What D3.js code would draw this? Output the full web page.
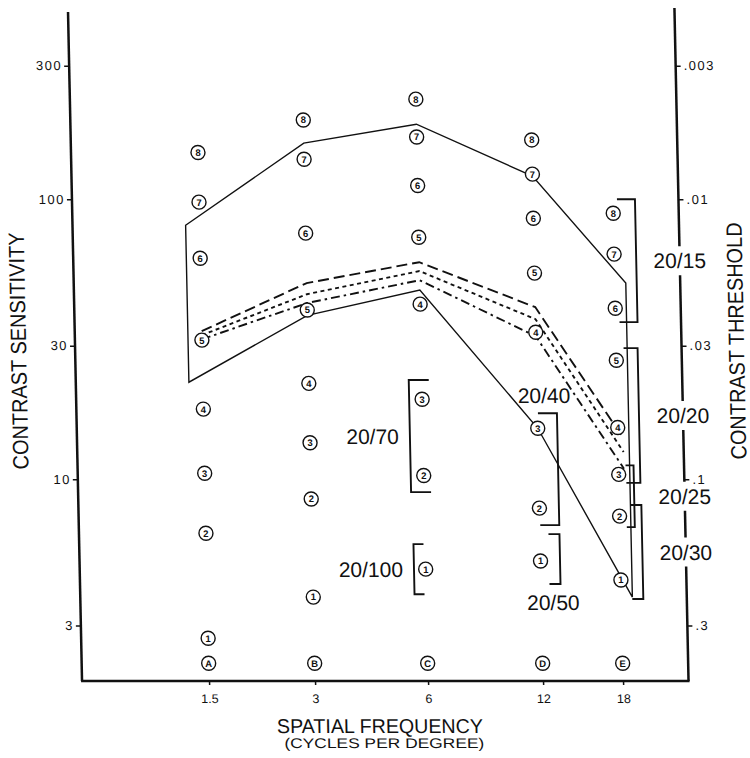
<!DOCTYPE html>
<meta charset="utf-8">
<style>
body { margin: 0; background: #fff; }
svg { display: block; font-family: "Liberation Sans", Arial, sans-serif; }
.tick line { stroke: #111; stroke-width: 1.5px; }
.frame { stroke: #111; stroke-width: 2.5px; }
.norm { fill: none; stroke: #111; stroke-width: 1.4px; }
.curve { fill: none; stroke: #111; stroke-width: 1.9px; }
.patch circle { fill: #fff; stroke: #111; stroke-width: 1.4px; }
.patch text { font-size: 9.5px; font-weight: bold; fill: #111; text-anchor: middle; }
.bracket { fill: none; stroke: #111; stroke-width: 1.9px; }
.acuity { font-size: 21px; fill: #111; }
.title { fill: #111; }
</style>
<svg width="750" height="758"></svg>
<script src="https://d3js.org/d3.v7.min.js"></script>
<script>

// spatial frequency columns (cycles per degree)
var freqs = [1.5, 3, 6, 12, 18];
var freqLabels = ["1.5", "3", "6", "12", "18"];
var rowLetters = ["A", "B", "C", "D", "E"];
var letterLevel = 2.2;

// numbered patches 1..8, contrast sensitivity for each column
var patchNumbers = [1, 2, 3, 4, 5, 6, 7, 8];
var patchA = [2.70, 6.41, 10.5, 17.8, 31.4, 61.6, 97.7, 147];
var patchB = [3.79, 8.49, 13.5, 22.0, 40.2, 75.7, 139, 192];
var patchC = [4.77, 10.3, 19.3, 42.2, 73.2, 112, 167, 228];
var patchD = [5.10, 7.88, 15.2, 33.5, 54.5, 85.6, 123, 163];
var patchE = [4.36, 7.38, 10.4, 15.3, 26.6, 40.8, 63.7, 89.2];

// normal range envelope
var normFreq = [1.37, 3, 6, 12, 19.04];
var normUpper = [80.8, 158.7, 185.5, 121, 50.2];
var normLower = [22.2, 38.5, 47.4, 15.2, 3.79];

// the three middle curves
var curveFreq = [1.5, 3, 6, 12, 18.5];
var curveLong = [33.8, 50.2, 59.6, 41.2, 14.0];
var curveShort = [32.7, 45.8, 55.4, 37.3, 12.5];
var curveDashDot = [31.6, 42.6, 51.4, 32.4, 10.9];

// visual acuity brackets
var acuityLabels = ["20/15", "20/20", "20/25", "20/30", "20/40", "20/50", "20/70", "20/100"];
var acuityFreq = [18, 18, 18, 18, 12, 12, 6, 6];
var acuityHigh = [100, 29.4, 11.2, 8.08, 17.2, 6.36, 22.6, 5.86];
var acuityLow = [36.4, 9.7, 6.74, 3.73, 6.85, 4.22, 8.99, 3.88];

// axis ticks
var sensTicks = [300, 100, 30, 10, 3];
var threshTicks = [1/300, 1/100, 1/30, 1/10, 1/3];
var threshLabels = [".003", ".01", ".03", ".1", ".3"];

// layout
var plotL = 75, plotR = 681.5, plotT = 12, plotB = 681;
var colX = [202, 308, 421, 536, 616];

var bracketLayout = [
  {dx: 22, arm: 18, pos: "axis"},
  {dx: 21.5, arm: 14, pos: "axis"},
  {dx: 15, arm: 8, pos: "axis"},
  {dx: 22, arm: 11, pos: "axis"},
  {dx: 19.5, arm: 19, pos: "above", lx: 7},
  {dx: 19.5, arm: 11, pos: "below", lx: 12},
  {dx: -13, arm: -20, pos: "left"},
  {dx: -11.7, arm: -10, pos: "left"}
];

var svg = d3.select("svg");
// the scanned figure leans slightly
var g = svg.append("g")
    .attr("transform", "translate(0,345) skewX(1.2) translate(0,-345)");

var x = d3.scaleLog().domain(freqs).range(colX);
var y = d3.scaleLog().domain([1.9, 467]).range([plotB, plotT]);
var yR = d3.scaleLog().domain([1 / 1.9, 1 / 467]).range([plotB, plotT]);

// frame
g.append("line").attr("class", "frame")
    .attr("x1", plotL).attr("x2", plotL).attr("y1", plotT).attr("y2", plotB);
g.append("line").attr("class", "frame")
    .attr("x1", plotL - 1).attr("x2", plotR + 1).attr("y1", plotB).attr("y2", plotB);
g.append("line").attr("class", "frame")
    .attr("x1", plotR).attr("x2", plotR).attr("y1", 8).attr("y2", plotB);

var yAxis = g.append("g")
    .attr("transform", "translate(" + plotL + ",0)")
    .call(d3.axisLeft(y).tickValues(sensTicks).tickFormat(d3.format("d")).tickSize(5).tickPadding(2));
yAxis.select(".domain").remove();
yAxis.selectAll("text").attr("font-size", 13).attr("letter-spacing", 1.5).attr("fill", "#111");

var xAxis = g.append("g")
    .attr("transform", "translate(0," + plotB + ")")
    .call(d3.axisBottom(x).tickValues(freqs)
      .tickFormat(function(d, i) { return freqLabels[i]; }).tickSize(4).tickPadding(9));
xAxis.select(".domain").remove();
xAxis.selectAll("text").attr("font-size", 12.5).attr("fill", "#111");

// normal range
var line = d3.line()
    .x(function(d) { return x(d[0]); })
    .y(function(d) { return y(d[1]); });

var envelope = normFreq.map(function(f, i) { return [f, normUpper[i]]; })
    .concat(normFreq.map(function(f, i) { return [f, normLower[i]]; }).reverse());
g.append("path").attr("class", "norm").attr("d", line(envelope) + "Z");

var curves = [
  {values: curveLong, dash: "11,5"},
  {values: curveShort, dash: "4,3.5"},
  {values: curveDashDot, dash: "9,4,2.5,4"}
];
g.selectAll(".curve")
  .data(curves)
  .enter().append("path")
    .attr("class", "curve")
    .attr("stroke-dasharray", function(d) { return d.dash; })
    .attr("d", function(d) {
      return line(curveFreq.map(function(f, i) { return [f, d.values[i]]; }));
    });

// circled patches
var patchColumns = [patchA, patchB, patchC, patchD, patchE];
var patches = [];
patchColumns.forEach(function(col, i) {
  col.forEach(function(v, j) {
    patches.push({f: freqs[i], v: v, label: patchNumbers[j]});
  });
  patches.push({f: freqs[i], v: letterLevel, label: rowLetters[i]});
});

var patch = g.selectAll(".patch")
  .data(patches)
  .enter().append("g")
    .attr("class", "patch")
    .attr("transform", function(d) { return "translate(" + x(d.f) + "," + y(d.v) + ")"; });
patch.append("circle").attr("r", 7);
patch.append("text").attr("dy", "0.36em").text(function(d) { return d.label; });

// acuity brackets
acuityLabels.forEach(function(lab, i) {
  var L = bracketLayout[i];
  var bx = x(acuityFreq[i]) + L.dx;
  var y1 = y(acuityHigh[i]), y2 = y(acuityLow[i]);
  g.append("path").attr("class", "bracket")
      .attr("d", "M" + (bx - L.arm) + "," + y1 + "H" + bx + "V" + y2 + "H" + (bx - L.arm));

  var ym = (y1 + y2) / 2;
  var t = g.append("text").attr("class", "acuity").text(lab);
  if (L.pos === "axis") {
    t.attr("x", plotR).attr("y", ym).attr("dy", "0.36em").attr("text-anchor", "middle");
    var bb = t.node().getBBox();
    g.insert("rect", function() { return t.node(); })
        .attr("x", bb.x - 2).attr("y", bb.y - 3)
        .attr("width", bb.width + 4).attr("height", bb.height + 6)
        .attr("fill", "#fff");
  } else if (L.pos === "above") {
    t.attr("x", x(acuityFreq[i]) + L.lx).attr("y", y1 - 18).attr("dy", "0.36em").attr("text-anchor", "middle");
  } else if (L.pos === "below") {
    t.attr("x", x(acuityFreq[i]) + L.lx).attr("y", y2 + 18).attr("dy", "0.36em").attr("text-anchor", "middle");
  } else {
    t.attr("x", bx - 11).attr("y", ym).attr("dy", "0.36em").attr("text-anchor", "end");
  }
});

// right axis drawn last so its labels sit above the label gaps
var rAxis = g.append("g")
    .attr("transform", "translate(" + plotR + ",0)")
    .call(d3.axisRight(yR).tickValues(threshTicks)
      .tickFormat(function(d, i) { return threshLabels[i]; }).tickSize(5).tickPadding(3));
rAxis.select(".domain").remove();
rAxis.selectAll("text").attr("font-size", 13).attr("letter-spacing", 1.5).attr("fill", "#111");

// titles
g.append("text").attr("class", "title")
    .attr("transform", "translate(26,351) rotate(-90)")
    .attr("text-anchor", "middle")
    .attr("font-size", 22)
    .attr("textLength", 237).attr("lengthAdjust", "spacingAndGlyphs")
    .text("CONTRAST SENSITIVITY");

g.append("text").attr("class", "title")
    .attr("transform", "translate(744,341) rotate(-90)")
    .attr("text-anchor", "middle")
    .attr("font-size", 22)
    .attr("textLength", 237).attr("lengthAdjust", "spacingAndGlyphs")
    .text("CONTRAST THRESHOLD");

g.append("text").attr("class", "title")
    .attr("x", 372).attr("y", 733)
    .attr("text-anchor", "middle")
    .attr("font-size", 20)
    .attr("textLength", 206).attr("lengthAdjust", "spacingAndGlyphs")
    .text("SPATIAL FREQUENCY");

g.append("text").attr("class", "title")
    .attr("x", 376).attr("y", 748)
    .attr("text-anchor", "middle")
    .attr("font-size", 14)
    .attr("textLength", 200).attr("lengthAdjust", "spacingAndGlyphs")
    .text("(CYCLES PER DEGREE)");

</script>
